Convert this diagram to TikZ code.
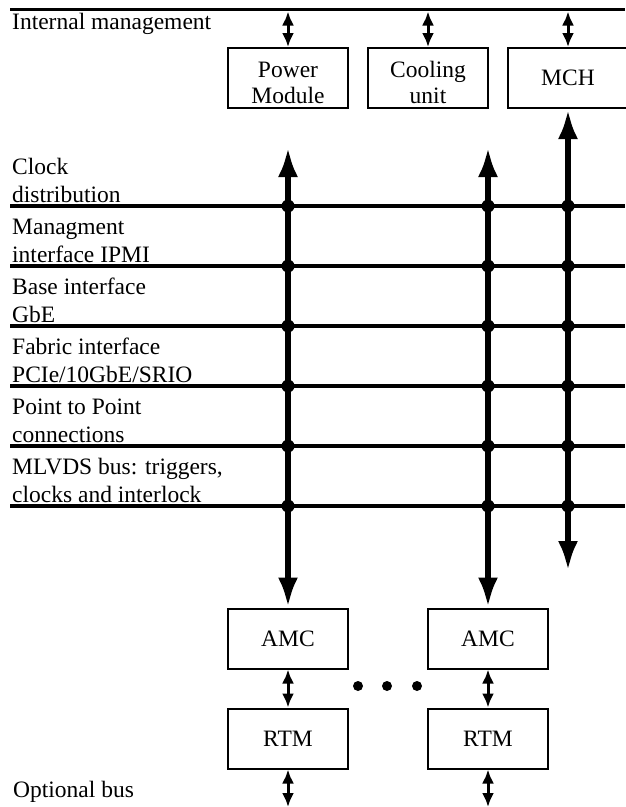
\documentclass[tikz,border=0pt]{standalone}
\usepackage{fontspec}
\setmainfont{Liberation Serif}
\usetikzlibrary{arrows.meta}
\newcommand{\boxtwo}[2]{\raisebox{1pt}{\smash{\begin{tabular}[t]{@{}c@{}}#1\\#2\end{tabular}}}}
\begin{document}
\begin{tikzpicture}[x=1pt,y=-1pt,
  box/.style={draw,line width=2pt,minimum width=120pt,minimum height=60pt,inner sep=0pt,font=\fontsize{23.5}{26}\selectfont},
  lbl/.style={anchor=base west,inner sep=0pt,font=\fontsize{23.5}{28}\selectfont},
  bus/.style={line width=3.5pt},
  bigarrow/.style={line width=6pt,{Latex[length=30pt,width=20pt]}-{Latex[length=30pt,width=20pt]}},
  smallarrow/.style={line width=3pt,{Latex[length=14pt,width=12pt]}-{Latex[length=14pt,width=12pt]}},
  junction/.style={fill=black,circle,inner sep=0pt,minimum size=13pt},
  ellipsis/.style={fill=black,circle,inner sep=0pt,minimum size=10pt}
]
\useasboundingbox (0,0) rectangle (625,807);

% top internal management line
\coordinate (imL) at (10,9.5);
\coordinate (imR) at (625,9.5);
\draw[bus] (imL) -- (imR);
\node[lbl] (im) at (12,29) {Internal management};

% modules
\node[box] (pm) at (288,78) {\boxtwo{Power}{Module}};
\node[box] (cu) at (428,78) {\boxtwo{Cooling}{unit}};
\node[box] (mch) at (568,78) {MCH};

\coordinate (pmT) at (288,11.5);
\coordinate (cuT) at (428,11.5);
\coordinate (mchT) at (568,11.5);
\draw[smallarrow] (pmT) -- (pm.north);
\draw[smallarrow] (cuT) -- (cu.north);
\draw[smallarrow] (mchT) -- (mch.north);

% AMC / RTM
\node[box] (amc1) at (288,638.5) {AMC};
\node[box] (amc2) at (488,638.5) {AMC};
\node[box] (rtm1) at (288,738.5) {RTM};
\node[box] (rtm2) at (488,738.5) {RTM};

\draw[smallarrow] (amc1.south) -- (rtm1.north);
\draw[smallarrow] (amc2.south) -- (rtm2.north);
\coordinate (ob1) at (288,807);
\coordinate (ob2) at (488,807);
\draw[smallarrow] (rtm1.south) -- (ob1);
\draw[smallarrow] (rtm2.south) -- (ob2);

\node[ellipsis] (d1) at (358,686) {};
\node[ellipsis] (d2) at (387,686) {};
\node[ellipsis] (d3) at (417,686) {};

\node[lbl] (ob) at (13,797) {Optional bus};

% thick backplane arrows
\coordinate (a1T) at (288,147);
\coordinate (a2T) at (488,147);
\coordinate (mchB) at (568,571);
\draw[bigarrow] (a1T) -- (amc1.north);
\draw[bigarrow] (a2T) -- (amc2.north);
\draw[bigarrow] (mch.south) -- (mchB);

% buses
\foreach \y/\name/\txt in {
  206/b1/{Clock\\distribution},
  266/b2/{Managment\\interface IPMI},
  326/b3/{Base interface\\GbE},
  386/b4/{Fabric interface\\PCIe/10GbE/SRIO},
  446/b5/{Point to Point\\connections},
  506/b6/{MLVDS bus: triggers,\\clocks and interlock}}{
  \coordinate (\name L) at (10,\y);
  \coordinate (\name R) at (625,\y);
  \draw[bus] (\name L) -- (\name R);
  \node[lbl] (\name t) at (12,\y-4) {\begin{tabular}[b]{@{}l@{}}\txt\end{tabular}};
  \node[junction] (\name j1) at (288,\y) {};
  \node[junction] (\name j2) at (488,\y) {};
  \node[junction] (\name j3) at (568,\y) {};
}
\end{tikzpicture}
\end{document}
